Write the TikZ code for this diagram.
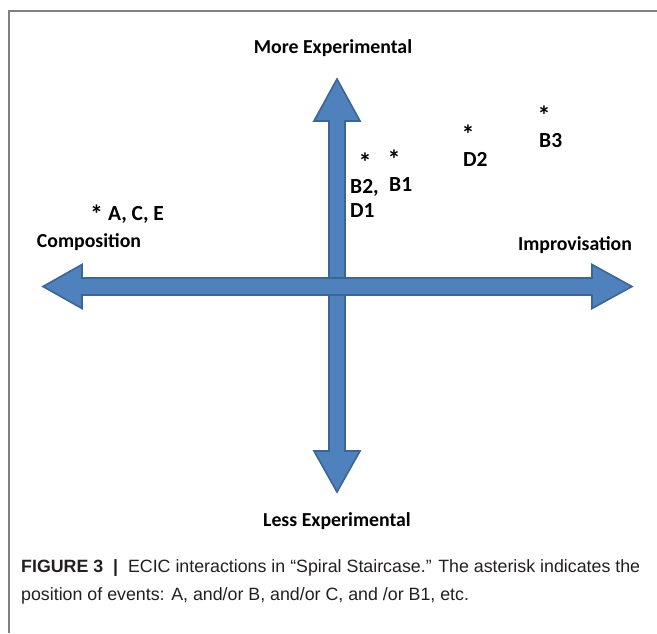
\documentclass[tikz,border=0pt]{standalone}
\usepackage{fontspec}
\setmainfont{Carlito}
\newfontfamily\capfont{Liberation Sans}
\definecolor{arrowfill}{HTML}{4F81BD}
\definecolor{arrowline}{HTML}{3A6596}
\definecolor{framegray}{HTML}{808080}
\definecolor{captext}{HTML}{231F20}
\newcommand{\bigast}{{\fontsize{26}{26}\selectfont *}}
\begin{document}
\begin{tikzpicture}[x=1pt,y=-1pt,
  lbl/.style={font=\fontsize{19.8}{22}\selectfont\bfseries, inner sep=0pt},
  evt/.style={font=\fontsize{21.5}{23}\selectfont\bfseries, inner sep=0pt},
  bigarrow/.style={fill=arrowfill, draw=arrowline, line width=1.6pt, line join=miter},
  capline/.style={font=\capfont\fontsize{17.8}{20}\selectfont, text=captext, anchor=base west, inner sep=0pt}]
\useasboundingbox (0,0) rectangle (657,633);
% frame
\draw[framegray, line width=1.5pt] (9,633) -- (9,11) -- (657,11);
% vertical arrow
\draw[bigarrow] (337,79) -- (360,121) -- (345,121) -- (345,451) -- (360,451) -- (337,492)
  -- (314,451) -- (329,451) -- (329,121) -- (314,121) -- cycle;
% horizontal arrow
\draw[bigarrow] (43,286.5) -- (82,264.5) -- (82,278) -- (592,278) -- (592,264.5) -- (632,286.5)
  -- (592,308.5) -- (592,295) -- (82,295) -- (82,308.5) -- cycle;
% axis labels
\node[lbl] (more) at (333,48) {More Experimental};
\node[lbl] (less) at (337,521) {Less Experimental};
\node[lbl] (comp) at (89,242) {Composition};
\node[lbl] (impr) at (575,245) {Improvisation};
% events
\node[evt, anchor=base west] (ace) at (90,220) {\raisebox{-3pt}{\bigast} A, C, E};
\node[evt, anchor=base] (s1) at (365,171) {\bigast};
\node[evt, anchor=west] (b2) at (350,188) {B2,};
\node[evt, anchor=west] (d1) at (350,211) {D1};
\node[evt, anchor=base] (s2) at (394,168) {\bigast};
\node[evt, anchor=west] (b1) at (389,185) {B1};
\node[evt, anchor=base] (s3) at (468,143) {\bigast};
\node[evt, anchor=west] (d2) at (463,159) {D2};
\node[evt, anchor=base] (s4) at (544,124) {\bigast};
\node[evt, anchor=west] (b3) at (539,141) {B3};
% caption
\node[capline] (cap1) at (21,572) {{\bfseries FIGURE 3}\ \ {\bfseries\textbar}\ \ ECIC interactions in “Spiral Staircase.” The asterisk indicates the};
\node[capline] (cap2) at (21,600) {position of events: A, and/or B, and/or C, and /or B1, etc.};
\end{tikzpicture}
\end{document}
